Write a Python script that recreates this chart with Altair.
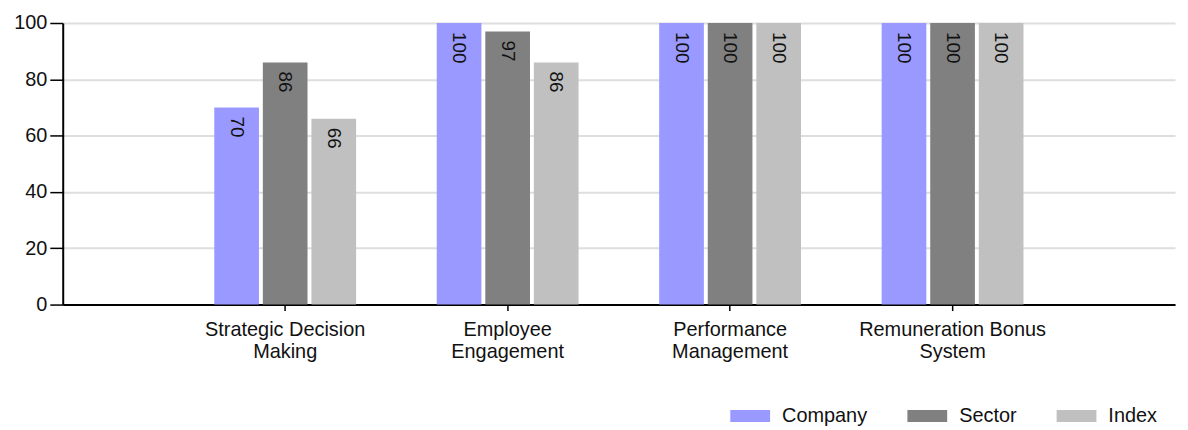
import altair as alt
import pandas as pd

categories = ["Strategic Decision\nMaking", "Employee\nEngagement", "Performance\nManagement", "Remuneration Bonus\nSystem"]
series = ["Company", "Sector", "Index"]
company = [70, 100, 100, 100]
sector = [86, 97, 100, 100]
index_vals = [66, 86, 100, 100]
colors = ["#9999FF", "#808080", "#C0C0C0"]

rows = []
for i, c in enumerate(categories):
    for s, vals in zip(series, [company, sector, index_vals]):
        rows.append({"category": c, "series": s, "value": vals[i]})
df = pd.DataFrame(rows)

FONT = "Liberation Sans"

x = alt.X("category:N", sort=categories, title=None,
          scale=alt.Scale(paddingInner=0, paddingOuter=0.5),
          axis=alt.Axis(labelAngle=0, labelExpr="split(datum.value, '\\n')",
                        labelFontSize=20, labelLineHeight=22, labelColor="#111",
                        labelLimit=400, labelPadding=9, tickSize=6, tickColor="#000",
                        tickWidth=1.5, domainColor="#000", domainWidth=2, grid=False,
                        labelFont=FONT))
xo = alt.XOffset("series:N", sort=series,
                 scale=alt.Scale(paddingInner=0.08, paddingOuter=0.83))
y = alt.Y("value:Q", title=None,
          scale=alt.Scale(domain=[0, 100], nice=False),
          axis=alt.Axis(values=[0, 20, 40, 60, 80, 100], labelFontSize=20, labelColor="#111",
                        labelFont=FONT, labelFlush=False, tickSize=13, tickColor="#000",
                        tickWidth=1.5, domainColor="#000", domainWidth=2,
                        gridColor="#dedede", gridWidth=2, labelPadding=3))
color = alt.Color("series:N", sort=series,
                  scale=alt.Scale(domain=series, range=colors),
                  legend=alt.Legend(title=None, orient="none", direction="horizontal",
                                    legendX=671, legendY=375,
                                    symbolType="M-1,-0.3L1,-0.3L1,0.3L-1,0.3Z",
                                    symbolSize=1600, symbolStrokeWidth=0,
                                    labelFontSize=20, labelFont=FONT, labelColor="#111",
                                    labelOffset=12, columnPadding=40))

bars = alt.Chart(df).mark_bar().encode(x=x, xOffset=xo, y=y, color=color)
labels = alt.Chart(df).mark_text(angle=90, align="left", baseline="middle", dx=9,
                                 fontSize=19, font=FONT, color="#111").encode(
    x=x, xOffset=xo, y=y, text=alt.Text("value:Q"))

chart = (bars + labels).properties(
    width=1118, height=283,
    padding={"left": 5, "top": 4, "right": 5, "bottom": 5},
).configure_view(stroke=None)

chart.save("out.html", embed_options={"renderer": "svg", "actions": False})
